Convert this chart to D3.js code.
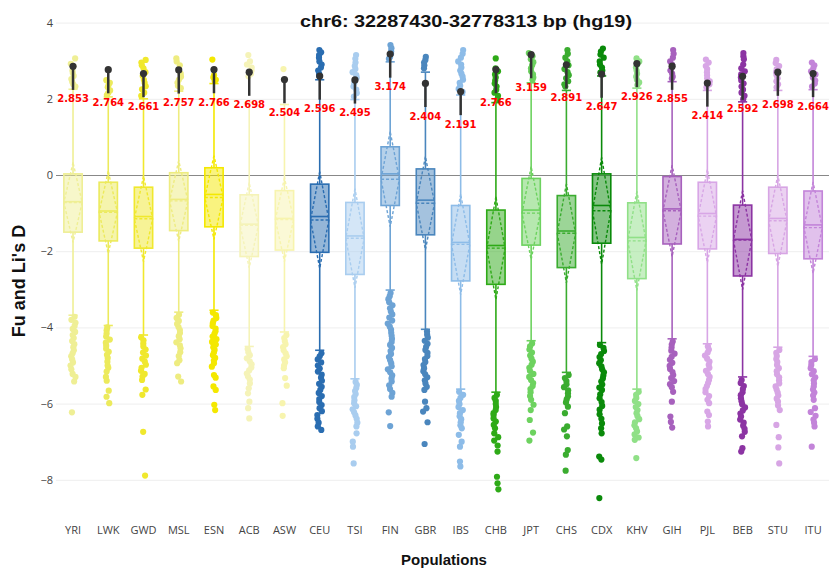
<!DOCTYPE html>
<html>
<head>
<meta charset="utf-8">
<script src="https://cdn.jsdelivr.net/npm/d3@7/dist/d3.min.js"></script>
<style>
  body{margin:0;background:#fff;}
  .canvas svg{display:block;}
</style>
</head>
<body>
<div class="canvas"></div>
<script>

// populations and box stats
const pops=['YRI','LWK','GWD','MSL','ESN','ACB','ASW','CEU','TSI','FIN','GBR','IBS','CHB','JPT','CHS','CDX','KHV','GIH','PJL','BEB','STU','ITU'];
const colors=['#efef95','#ecea5c','#f0e82d','#eeec80','#f4e800','#f5f3b8','#f7f4ae',
  '#2a6db1','#a9cdef','#6da3d5','#4a86bd','#8dbce8',
  '#2eaa17','#6dd25f','#3aac2f','#0a8a0a','#90e087',
  '#a761bd','#d8a6e6','#8c34a3','#d7a5e4','#c384d9'];

const q1=[-1.50,-1.73,-1.92,-1.46,-1.36,-2.14,-1.97,-2.03,-2.61,-0.80,-1.57,-2.78,-2.87,-1.84,-2.43,-1.79,-2.72,-1.81,-1.94,-2.65,-2.06,-2.20];
const median=[-0.70,-0.945,-1.09,-0.64,-0.51,-1.29,-1.14,-1.09,-1.60,0.03,-0.66,-1.77,-1.85,-0.92,-1.47,-0.80,-1.64,-0.89,-1.01,-1.69,-1.14,-1.31];
const q3=[0.03,-0.19,-0.32,0.06,0.19,-0.52,-0.41,-0.24,-0.72,0.74,0.16,-0.80,-0.92,-0.09,-0.54,0.03,-0.73,-0.04,-0.19,-0.79,-0.32,-0.42];
const means=[-0.72,-0.98,-1.15,-0.68,-0.59,-1.32,-1.17,-1.18,-1.66,-0.11,-0.74,-1.82,-1.92,-1.00,-1.53,-0.94,-1.73,-0.94,-1.08,-1.71,-1.20,-1.38];
const sds=[1.05,1.08,1.12,1.06,1.10,1.12,1.10,1.27,1.30,1.25,1.22,1.32,1.35,1.22,1.30,1.40,1.30,1.20,1.22,1.30,1.20,1.20];
const lowWhisk=[-3.68,-3.95,-4.20,-3.60,-3.55,-4.50,-4.12,-4.60,-5.35,-3.02,-4.05,-5.62,-5.70,-4.35,-5.18,-4.40,-5.62,-4.30,-4.43,-5.30,-4.52,-4.76];
const highWhisk=[2.25,2.05,2.00,2.20,2.40,1.90,1.85,2.50,1.98,2.97,2.70,2.10,1.90,2.42,2.22,2.60,2.28,2.45,2.22,1.92,2.22,2.24];

// Fu and Li's D of the region (black markers + red labels)
const regionD=[2.853,2.764,2.661,2.757,2.766,2.698,2.504,2.596,2.495,3.174,2.404,2.191,2.766,3.159,2.891,2.647,2.926,2.855,2.414,2.592,2.698,2.664];
const barLen=0.62;

// outliers above / below the whiskers
const hiOut=[
  [3.06,2.92,2.85,2.74,2.68,2.6,2.52,2.45,2.38,2.32],
  [2.49,2.42,2.36,2.3,2.22,2.15,2.1],
  [3.02,2.95,2.88,2.8,2.7,2.6,2.5,2.42,2.33,2.25,2.16,2.08],
  [3.06,2.98,2.88,2.75,2.66,2.58,2.5,2.42,2.34,2.28],
  [3.03,2.62,2.56,2.5,2.47],
  [3.15,2.98,2.9,2.82,2.74,2.66,2.59],
  [2.78],
  [3.28,3.22,3.15,3.08,2.98,2.9,2.82,2.74,2.66,2.6],
  [3.15,3.05,2.95,2.86,2.78,2.7,2.62,2.55,2.47,2.4,2.32,2.24,2.15,2.06],
  [3.41,3.33,3.25,3.18,3.1,3.05],
  [3.1,3.02,2.95,2.88,2.8],
  [3.28,3.18,3.08,2.98,2.9,2.82,2.74,2.66,2.58,2.5,2.42,2.34,2.26,2.18],
  [3.06,2.8,2.72,2.64,2.56,2.48,2.4,2.32,2.24,2.16,2.08,1.99],
  [3.2,3.12,3.04,2.96,2.88,2.8,2.72,2.64,2.56,2.5],
  [3.28,3.18,3.08,2.98,2.88,2.78,2.7,2.62,2.54,2.46,2.38,2.32],
  [3.32,3.24,3.16,3.08,2.98,2.9,2.82,2.74,2.69],
  [3.06,2.98,2.9,2.82,2.74,2.66,2.58,2.5,2.43,2.36],
  [3.28,3.18,3.08,2.98,2.9,2.82,2.74,2.66,2.58,2.53],
  [3.03,2.95,2.86,2.78,2.7,2.62,2.54,2.46,2.38,2.3],
  [3.2,3.12,3.04,2.9,2.8,2.72,2.64,2.56,2.48,2.4,2.32,2.24,2.16,2.08,1.99],
  [3.02,2.94,2.86,2.78,2.7,2.62,2.54,2.46,2.38,2.3],
  [2.95,2.88,2.8,2.72,2.64,2.56,2.48,2.4,2.32]
];
const loOut=[
  [-3.72,-3.8,-3.88,-3.96,-4.04,-4.12,-4.2,-4.28,-4.36,-4.44,-4.52,-4.6,-4.68,-4.76,-4.84,-4.92,-5.0,-5.1,-5.22,-5.3,-5.42,-6.23],
  [-4.0,-4.08,-4.16,-4.24,-4.32,-4.4,-4.48,-4.56,-4.64,-4.72,-4.8,-4.9,-5.0,-5.06,-5.16,-5.3,-5.4,-5.66,-5.82,-5.99],
  [-4.26,-4.34,-4.42,-4.5,-4.58,-4.66,-4.74,-4.82,-4.9,-4.98,-5.06,-5.14,-5.22,-5.29,-5.38,-5.63,-5.77,-6.74,-7.89],
  [-3.67,-3.75,-3.83,-3.91,-3.99,-4.07,-4.15,-4.23,-4.31,-4.39,-4.47,-4.55,-4.65,-4.75,-4.86,-4.94,-5.29,-5.42],
  [-3.61,-3.68,-3.75,-3.82,-3.89,-3.96,-4.03,-4.1,-4.17,-4.24,-4.31,-4.38,-4.45,-4.52,-4.59,-4.66,-4.73,-4.8,-4.87,-4.94,-5.03,-5.25,-5.32,-5.55,-5.64,-6.03,-6.17],
  [-4.57,-4.65,-4.73,-4.81,-4.89,-4.97,-5.05,-5.13,-5.21,-5.29,-5.37,-5.47,-5.6,-5.73,-5.95,-6.12,-6.39],
  [-4.2,-4.28,-4.36,-4.44,-4.52,-4.6,-4.68,-4.76,-4.84,-4.92,-5.0,-5.07,-5.33,-5.53,-5.99,-6.32],
  [-4.68,-4.76,-4.84,-4.92,-5.0,-5.08,-5.16,-5.24,-5.32,-5.4,-5.48,-5.56,-5.64,-5.72,-5.8,-5.88,-5.96,-6.04,-6.12,-6.2,-6.3,-6.4,-6.5,-6.6,-6.69],
  [-5.43,-5.51,-5.59,-5.67,-5.75,-5.83,-5.91,-5.99,-6.07,-6.15,-6.23,-6.31,-6.4,-6.5,-6.6,-6.78,-7.0,-7.13,-7.57],
  [-3.1,-3.18,-3.26,-3.34,-3.42,-3.5,-3.58,-3.66,-3.74,-3.82,-3.9,-3.98,-4.06,-4.14,-4.22,-4.3,-4.38,-4.46,-4.54,-4.62,-4.7,-4.78,-4.86,-4.94,-5.02,-5.1,-5.18,-5.26,-5.34,-5.42,-5.52,-5.62,-5.72,-5.82,-6.23,-6.59],
  [-4.11,-4.19,-4.27,-4.35,-4.43,-4.51,-4.59,-4.67,-4.75,-4.83,-4.91,-4.99,-5.07,-5.15,-5.23,-5.31,-5.39,-5.47,-5.56,-5.64,-5.95,-6.12,-6.21,-6.49,-7.06],
  [-5.69,-5.77,-5.85,-5.93,-6.01,-6.09,-6.17,-6.25,-6.33,-6.41,-6.49,-6.57,-6.65,-6.82,-7.0,-7.13,-7.52,-7.65],
  [-5.77,-5.85,-5.93,-6.01,-6.09,-6.17,-6.25,-6.3,-6.39,-6.47,-6.56,-6.65,-6.78,-6.88,-6.97,-7.1,-7.26,-7.92,-8.09,-8.25],
  [-4.42,-4.5,-4.58,-4.66,-4.74,-4.82,-4.9,-4.98,-5.06,-5.14,-5.22,-5.3,-5.38,-5.46,-5.54,-5.62,-5.7,-5.8,-5.9,-6.03,-6.17,-6.43,-6.76,-6.97],
  [-5.25,-5.33,-5.41,-5.49,-5.57,-5.65,-5.73,-5.81,-5.89,-5.97,-6.08,-6.25,-6.6,-6.68,-6.86,-7.22,-7.34,-7.76],
  [-4.46,-4.54,-4.62,-4.7,-4.78,-4.86,-4.94,-5.02,-5.1,-5.18,-5.26,-5.34,-5.42,-5.5,-5.58,-5.64,-5.76,-5.86,-5.96,-6.06,-6.16,-6.28,-6.4,-6.52,-6.65,-6.78,-7.39,-7.47,-8.48],
  [-5.69,-5.77,-5.85,-5.93,-6.01,-6.09,-6.17,-6.25,-6.33,-6.41,-6.49,-6.57,-6.65,-6.73,-6.81,-6.89,-6.95,-7.43],
  [-4.37,-4.45,-4.53,-4.61,-4.69,-4.77,-4.85,-4.93,-5.01,-5.09,-5.17,-5.25,-5.33,-5.41,-5.49,-5.57,-5.69,-5.95,-6.34,-6.48,-6.63],
  [-4.5,-4.58,-4.66,-4.74,-4.82,-4.9,-4.98,-5.06,-5.14,-5.22,-5.3,-5.38,-5.46,-5.54,-5.62,-5.7,-5.8,-5.9,-5.99,-6.21,-6.3,-6.47,-6.6],
  [-5.38,-5.46,-5.54,-5.62,-5.7,-5.78,-5.86,-5.94,-6.02,-6.1,-6.18,-6.26,-6.34,-6.42,-6.5,-6.58,-6.66,-6.74,-6.86,-7.17,-7.26],
  [-4.59,-4.67,-4.75,-4.83,-4.91,-4.99,-5.07,-5.15,-5.23,-5.31,-5.39,-5.47,-5.55,-5.63,-5.71,-5.79,-5.87,-5.95,-6.05,-6.17,-6.56,-6.88,-7.15,-7.57],
  [-4.83,-4.91,-4.99,-5.07,-5.15,-5.23,-5.31,-5.39,-5.47,-5.55,-5.63,-5.71,-5.79,-5.9,-6.12,-6.22,-6.32,-6.42,-6.5,-6.6,-7.13]
];
const yTicks=[-8,-6,-4,-2,0,2,4];

const width=829, height=570;
const svg=d3.select('.canvas').append('svg')
.attr('width',width)
.attr('height',height)
.style('font-family','"Open Sans", sans-serif');

svg.append('rect').attr('width',width).attr('height',height).attr('fill','#fff');

const x=d3.scaleBand()
.domain(pops)
.range([55.4,830.7]);

const y=d3.scaleLinear()
.domain([-8,4])
.range([479.8,22.6]);

// grid + y axis
const yAxisGroup=svg.append('g').attr('transform','translate(56,0)');
const yAxis=d3.axisLeft(y)
.tickValues(yTicks)
.tickSize(-(width-56))
.tickPadding(3)
.tickFormat(d=>d<0?'\u2212'+Math.abs(d):d);
yAxisGroup.call(yAxis);
yAxisGroup.select('.domain').remove();
yAxisGroup.selectAll('line')
.attr('stroke',d=>d===0?'#888':'#eee')
.attr('stroke-width',1);
yAxisGroup.selectAll('text')
.attr('fill','#444')
.style('font-size','11px')
.style('font-family','"Open Sans", sans-serif');

// x axis labels
const xAxisGroup=svg.append('g').attr('transform','translate(0,520)');
xAxisGroup.call(d3.axisBottom(x).tickSize(0).tickPadding(6));
xAxisGroup.select('.domain').remove();
xAxisGroup.selectAll('text')
.attr('fill','#444')
.style('font-size','11px')
.style('font-family','"Open Sans", sans-serif');

const boxW=x.bandwidth()*0.52;
const capW=boxW*0.5;
// small sideways spread of the outlier dots (hash of the index, no pattern)
const jitter=k=>{
  const h=Math.sin((k+1)*12.9898)*43758.5453;
  return (h-Math.floor(h)-0.5)*5;
};

const groups=svg.append('g').selectAll('g')
.data(pops)
.enter().append('g')
.attr('transform',d=>`translate(${x(d)+x.bandwidth()/2},0)`);

groups.each(function(p,i){
  const g=d3.select(this);
  const c=colors[i];

  // whiskers
  g.append('line').attr('x1',0).attr('x2',0)
  .attr('y1',y(q3[i])).attr('y2',y(highWhisk[i]))
  .attr('stroke',c).attr('stroke-width',1.6);
  g.append('line').attr('x1',0).attr('x2',0)
  .attr('y1',y(q1[i])).attr('y2',y(lowWhisk[i]))
  .attr('stroke',c).attr('stroke-width',1.6);
  [highWhisk[i],lowWhisk[i]].forEach(v=>{
    g.append('line').attr('x1',-capW/2).attr('x2',capW/2)
    .attr('y1',y(v)).attr('y2',y(v))
    .attr('stroke',c).attr('stroke-width',1.6);
  });

  // box
  g.append('rect')
  .attr('x',-boxW/2).attr('width',boxW)
  .attr('y',y(q3[i])).attr('height',y(q1[i])-y(q3[i]))
  .attr('fill',c).attr('fill-opacity',0.5)
  .attr('stroke',c).attr('stroke-width',1.6);

  // median
  g.append('line').attr('x1',-boxW/2).attr('x2',boxW/2)
  .attr('y1',y(median[i])).attr('y2',y(median[i]))
  .attr('stroke',c).attr('stroke-width',1.6);

  // mean line and sd diamond, dashed
  g.append('line').attr('x1',-boxW/2).attr('x2',boxW/2)
  .attr('y1',y(means[i])).attr('y2',y(means[i]))
  .attr('stroke',c).attr('stroke-width',1.4).attr('stroke-dasharray','3,2');
  const m=means[i], s=sds[i];
  g.append('path')
  .attr('d',`M0,${y(m+s)}L${-boxW/2},${y(m)}L0,${y(m-s)}L${boxW/2},${y(m)}Z`)
  .attr('fill','none').attr('stroke',c).attr('stroke-width',1.4).attr('stroke-dasharray','3,2');

  // outlier points
  const pts=hiOut[i].concat(loOut[i]);
  g.selectAll('circle.out')
  .data(pts)
  .enter().append('circle')
  .attr('class','out')
  .attr('cx',(d,k)=>jitter(k+i*50))
  .attr('cy',d=>y(d))
  .attr('r',3.1)
  .attr('fill',c);
});

// region value markers on top
groups.each(function(p,i){
  const g=d3.select(this);
  g.append('line').attr('x1',0).attr('x2',0)
  .attr('y1',y(regionD[i])).attr('y2',y(regionD[i]-barLen))
  .attr('stroke','#333').attr('stroke-width',2.5);
  g.append('circle').attr('cx',0).attr('cy',y(regionD[i])).attr('r',3.6).attr('fill','#333');
});
groups.append('text')
.attr('x',0)
.attr('y',(d,i)=>y(regionD[i]-barLen)+12.5)
.attr('text-anchor','middle')
.attr('fill','#f00')
.style('font-family','"DejaVu Sans", Verdana, sans-serif')
.style('font-weight','bold')
.style('font-size','10px')
.text((d,i)=>regionD[i].toFixed(3));

// titles
svg.append('text')
.attr('x',466).attr('y',27)
.attr('text-anchor','middle')
.attr('textLength',332).attr('lengthAdjust','spacingAndGlyphs')
.style('font-family','"Liberation Sans", Arial, sans-serif')
.style('font-weight','bold').style('font-size','17px')
.attr('fill','#111')
.text('chr6: 32287430-32778313 bp  (hg19)');

svg.append('text')
.attr('transform','translate(25,281) rotate(-90)')
.attr('text-anchor','middle')
.style('font-family','"Liberation Sans", Arial, sans-serif')
.style('font-weight','bold').style('font-size','18px')
.attr('fill','#111')
.text("Fu and Li's D");

svg.append('text')
.attr('x',444).attr('y',565)
.attr('text-anchor','middle')
.style('font-family','"Liberation Sans", Arial, sans-serif')
.style('font-weight','bold').style('font-size','15px')
.attr('fill','#111')
.text('Populations');

</script>
</body>
</html>
